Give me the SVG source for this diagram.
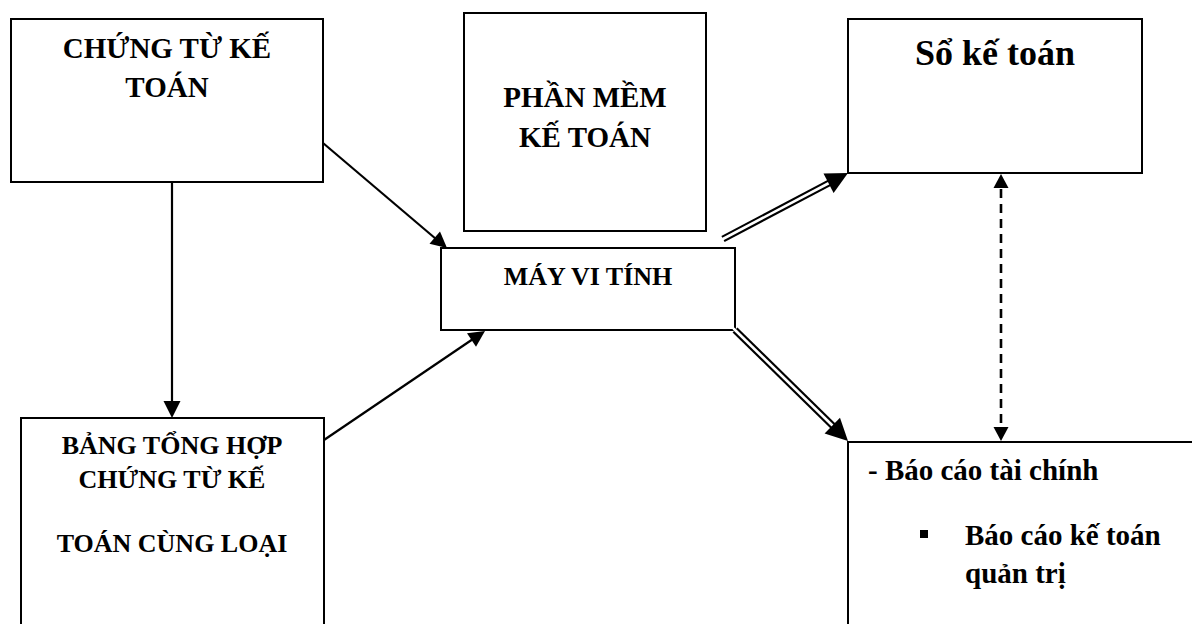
<svg xmlns="http://www.w3.org/2000/svg" width="1192" height="624" viewBox="0 0 1192 624">
  <style>
    .box { fill: #ffffff; stroke: #000000; stroke-width: 2; }
    .t { font-family: "Liberation Serif", "Times New Roman", serif; font-weight: bold; fill: #000000; }
    .c { text-anchor: middle; }
    .line { stroke: #000000; stroke-width: 2.2; fill: none; }
    .dbl-outer { stroke: #000000; stroke-width: 7; fill: none; }
    .dbl-inner { stroke: #ffffff; stroke-width: 2.6; fill: none; }
    .dash { stroke: #000000; stroke-width: 2.6; fill: none; stroke-dasharray: 9 6; }
    .head { fill: #000000; stroke: none; }
  </style>
  <rect width="1192" height="624" fill="#ffffff"/>

  <!-- nodes -->
  <g id="chung-tu-ke-toan">
    <rect class="box" x="11" y="19" width="312" height="163"/>
    <text class="t c" x="167" y="58" font-size="29">CHỨNG TỪ KẾ</text>
    <text class="t c" x="167" y="97" font-size="29">TOÁN</text>
  </g>

  <g id="bang-tong-hop">
    <rect class="box" x="21" y="418" width="303" height="230"/>
    <text class="t c" x="172" y="454" font-size="26">BẢNG TỔNG HỢP</text>
    <text class="t c" x="172" y="488" font-size="26">CHỨNG TỪ KẾ</text>
    <text class="t c" x="172" y="552" font-size="26">TOÁN CÙNG LOẠI</text>
  </g>

  <g id="phan-mem-ke-toan">
    <rect class="box" x="464" y="13" width="242" height="218"/>
    <text class="t c" x="585" y="107" font-size="29">PHẦN MỀM</text>
    <text class="t c" x="585" y="147" font-size="29">KẾ TOÁN</text>
  </g>

  <g id="may-vi-tinh">
    <rect class="box" x="441" y="248" width="294" height="82"/>
    <text class="t c" x="588" y="285" font-size="26">MÁY VI TÍNH</text>
  </g>

  <g id="so-ke-toan">
    <rect class="box" x="848" y="19" width="294" height="154"/>
    <text class="t c" x="995" y="65" font-size="36">Sổ kế toán</text>
  </g>

  <g id="bao-cao">
    <rect class="box" x="848" y="442" width="360" height="200"/>
    <text class="t" x="868" y="480" font-size="29">- Báo cáo tài chính</text>
    <rect x="920" y="530" width="8" height="8" fill="#000000"/>
    <text class="t" x="965" y="545" font-size="29">Báo cáo kế toán</text>
    <text class="t" x="965" y="583" font-size="29">quản trị</text>
  </g>

  <!-- connectors -->
  <g id="connectors">
    <!-- chứng từ -> bảng tổng hợp -->
    <line class="line" x1="172" y1="182" x2="172" y2="404"/>
    <polygon class="head" points="172,418 163.5,401 180.5,401"/>

    <!-- chứng từ -> máy vi tính -->
    <line class="line" x1="323" y1="143" x2="436" y2="239"/>
    <polygon class="head" points="447,248 429.5,243.7 440,231.5"/>

    <!-- bảng tổng hợp -> máy vi tính -->
    <line class="line" x1="324" y1="440" x2="473" y2="339"/>
    <polygon class="head" points="485,331 476,346.7 467,333.3"/>

    <!-- máy vi tính => sổ kế toán -->
    <line class="dbl-outer" x1="723" y1="239" x2="830" y2="182.5"/>
    <line class="dbl-inner" x1="721" y1="240" x2="830" y2="182.5"/>
    <polygon class="head" points="848,173 833.6,193 823.5,173.5"/>

    <!-- máy vi tính => báo cáo -->
    <line class="dbl-outer" x1="735" y1="330" x2="834" y2="427"/>
    <line class="dbl-inner" x1="733.5" y1="328.5" x2="834" y2="427"/>
    <polygon class="head" points="848,441 824.6,433.4 840,417.8"/>

    <!-- sổ kế toán <-> báo cáo -->
    <line class="dash" x1="1001" y1="189" x2="1001" y2="427"/>
    <polygon class="head" points="1001,174 993.5,188 1008.5,188"/>
    <polygon class="head" points="1001,441 993.5,427 1008.5,427"/>
  </g>
</svg>
